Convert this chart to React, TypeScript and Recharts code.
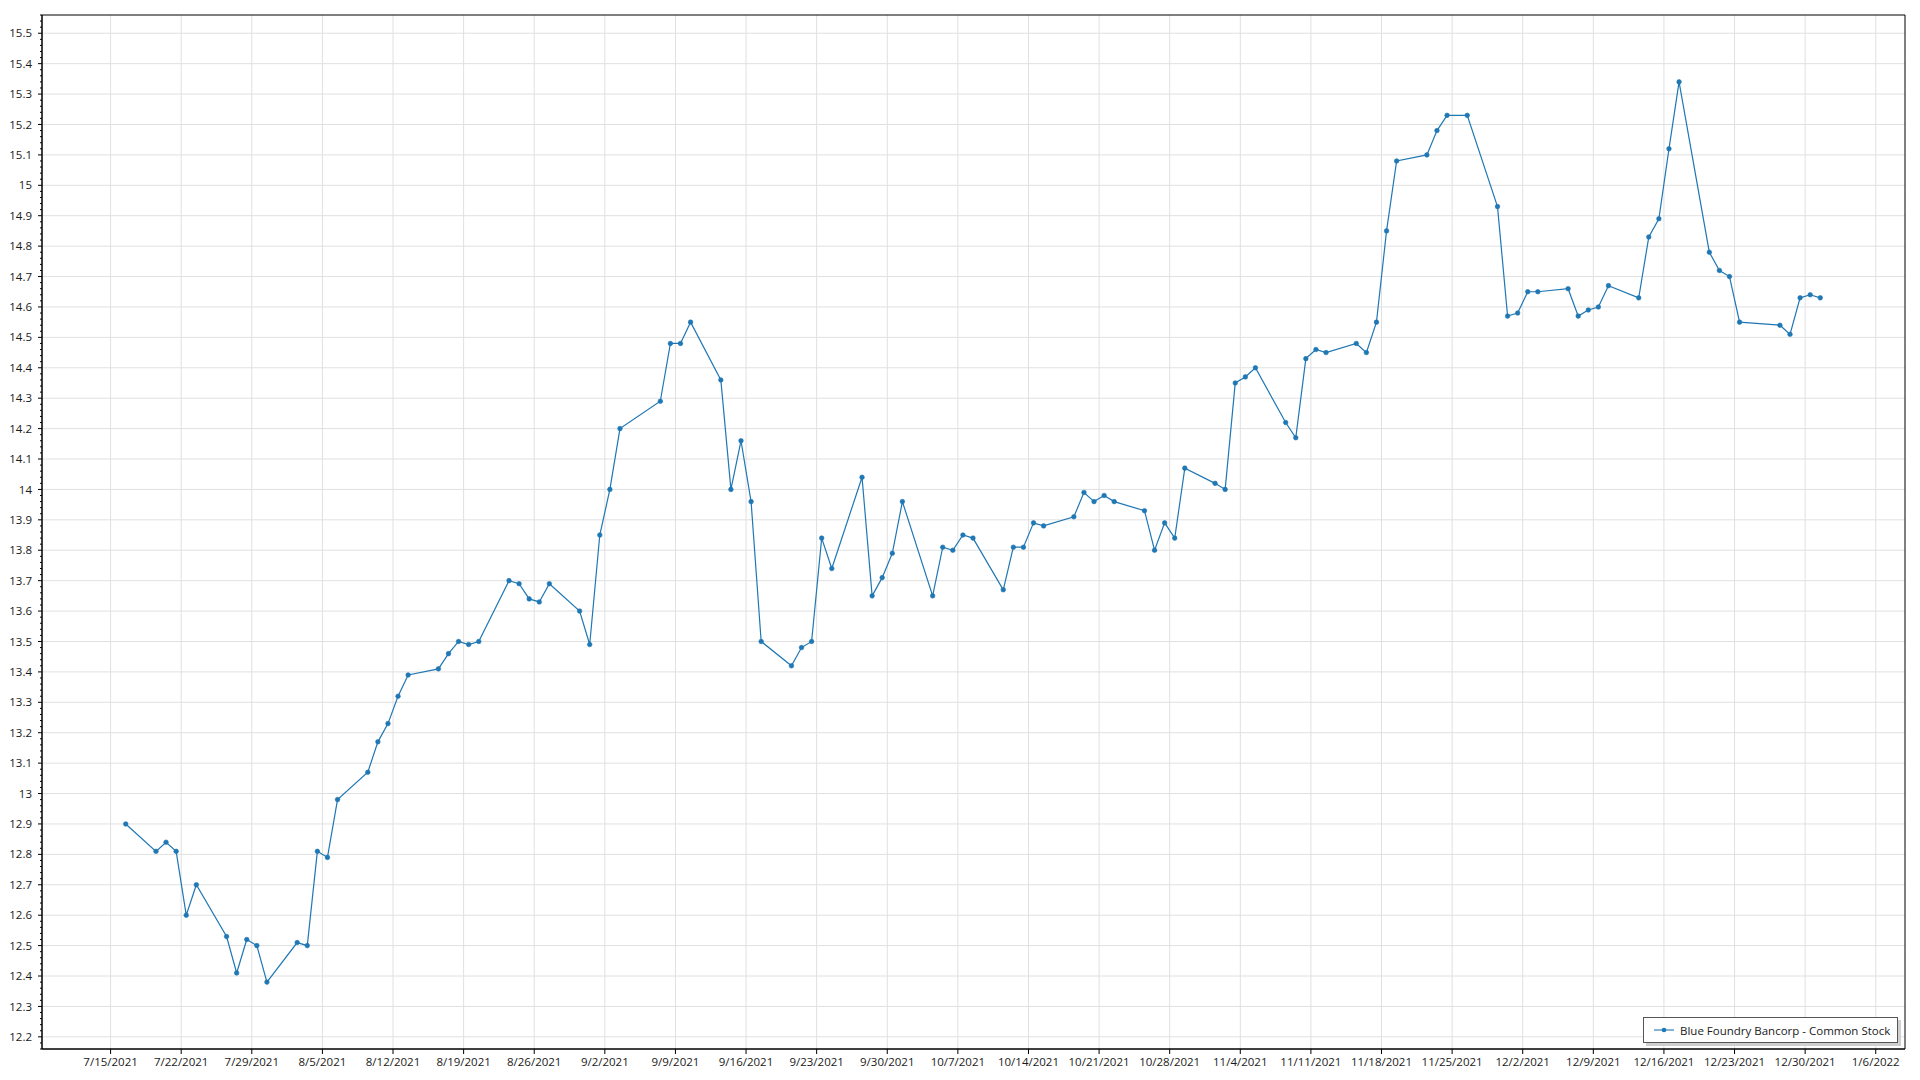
import React from 'react';
import { LineChart, Line, XAxis, YAxis, CartesianGrid, Legend, ReferenceArea } from 'recharts';

// ---------- data ----------
const seriesName = 'Blue Foundry Bancorp - Common Stock';

const tradeDates = [
  '7/16/2021', '7/19/2021', '7/20/2021', '7/21/2021', '7/22/2021', '7/23/2021',
  '7/26/2021', '7/27/2021', '7/28/2021', '7/29/2021', '7/30/2021',
  '8/2/2021', '8/3/2021', '8/4/2021', '8/5/2021', '8/6/2021',
  '8/9/2021', '8/10/2021', '8/11/2021', '8/12/2021', '8/13/2021',
  '8/16/2021', '8/17/2021', '8/18/2021', '8/19/2021', '8/20/2021',
  '8/23/2021', '8/24/2021', '8/25/2021', '8/26/2021', '8/27/2021',
  '8/30/2021', '8/31/2021', '9/1/2021', '9/2/2021', '9/3/2021',
  '9/7/2021', '9/8/2021', '9/9/2021', '9/10/2021',
  '9/13/2021', '9/14/2021', '9/15/2021', '9/16/2021', '9/17/2021',
  '9/20/2021', '9/21/2021', '9/22/2021', '9/23/2021', '9/24/2021',
  '9/27/2021', '9/28/2021', '9/29/2021', '9/30/2021', '10/1/2021',
  '10/4/2021', '10/5/2021', '10/6/2021', '10/7/2021', '10/8/2021',
  '10/11/2021', '10/12/2021', '10/13/2021', '10/14/2021', '10/15/2021',
  '10/18/2021', '10/19/2021', '10/20/2021', '10/21/2021', '10/22/2021',
  '10/25/2021', '10/26/2021', '10/27/2021', '10/28/2021', '10/29/2021',
  '11/1/2021', '11/2/2021', '11/3/2021', '11/4/2021', '11/5/2021',
  '11/8/2021', '11/9/2021', '11/10/2021', '11/11/2021', '11/12/2021',
  '11/15/2021', '11/16/2021', '11/17/2021', '11/18/2021', '11/19/2021',
  '11/22/2021', '11/23/2021', '11/24/2021', '11/26/2021',
  '11/29/2021', '11/30/2021', '12/1/2021', '12/2/2021', '12/3/2021',
  '12/6/2021', '12/7/2021', '12/8/2021', '12/9/2021', '12/10/2021',
  '12/13/2021', '12/14/2021', '12/15/2021', '12/16/2021', '12/17/2021',
  '12/20/2021', '12/21/2021', '12/22/2021', '12/23/2021',
  '12/27/2021', '12/28/2021', '12/29/2021', '12/30/2021', '12/31/2021',
];

const closePrices = [
  12.90, 12.81, 12.84, 12.81, 12.60, 12.70,
  12.53, 12.41, 12.52, 12.50, 12.38,
  12.51, 12.50, 12.81, 12.79, 12.98,
  13.07, 13.17, 13.23, 13.32, 13.39,
  13.41, 13.46, 13.50, 13.49, 13.50,
  13.70, 13.69, 13.64, 13.63, 13.69,
  13.60, 13.49, 13.85, 14.00, 14.20,
  14.29, 14.48, 14.48, 14.55,
  14.36, 14.00, 14.16, 13.96, 13.50,
  13.42, 13.48, 13.50, 13.84, 13.74,
  14.04, 13.65, 13.71, 13.79, 13.96,
  13.65, 13.81, 13.80, 13.85, 13.84,
  13.67, 13.81, 13.81, 13.89, 13.88,
  13.91, 13.99, 13.96, 13.98, 13.96,
  13.93, 13.80, 13.89, 13.84, 14.07,
  14.02, 14.00, 14.35, 14.37, 14.40,
  14.22, 14.17, 14.43, 14.46, 14.45,
  14.48, 14.45, 14.55, 14.85, 15.08,
  15.10, 15.18, 15.23, 15.23,
  14.93, 14.57, 14.58, 14.65, 14.65,
  14.66, 14.57, 14.59, 14.60, 14.67,
  14.63, 14.83, 14.89, 15.12, 15.34,
  14.78, 14.72, 14.70, 14.55,
  14.54, 14.51, 14.63, 14.64, 14.63,
];

const xTickLabels = [
  '7/15/2021', '7/22/2021', '7/29/2021', '8/5/2021', '8/12/2021', '8/19/2021',
  '8/26/2021', '9/2/2021', '9/9/2021', '9/16/2021', '9/23/2021', '9/30/2021',
  '10/7/2021', '10/14/2021', '10/21/2021', '10/28/2021', '11/4/2021', '11/11/2021',
  '11/18/2021', '11/25/2021', '12/2/2021', '12/9/2021', '12/16/2021', '12/23/2021',
  '12/30/2021', '1/6/2022',
];

const yMajorTicks = [
  12.2, 12.3, 12.4, 12.5, 12.6, 12.7, 12.8, 12.9, 13, 13.1, 13.2, 13.3,
  13.4, 13.5, 13.6, 13.7, 13.8, 13.9, 14, 14.1, 14.2, 14.3, 14.4, 14.5,
  14.6, 14.7, 14.8, 14.9, 15, 15.1, 15.2, 15.3, 15.4, 15.5,
];

// ---------- helpers ----------
const DAY = 86400000;
const parseDate = (s: string, hour = 0) => {
  const [m, d, y] = s.split('/').map(Number);
  return Date.UTC(y, m - 1, d, hour);
};
const fmtDate = (t: number) => {
  const dt = new Date(t);
  return `${dt.getUTCMonth() + 1}/${dt.getUTCDate()}/${dt.getUTCFullYear()}`;
};

const data = tradeDates.map((d, i) => ({ t: parseDate(d, 12), close: closePrices[i] }));
const xTicks = xTickLabels.map((s) => parseDate(s));

const X_MIN = xTicks[0] - 6.8 * DAY;
const X_MAX = xTicks[xTicks.length - 1] + 2.9 * DAY;
const Y_MIN = 12.16;
const Y_MAX = 15.56;

// minor ticks every 0.02
const yAllTicks: number[] = [];
for (let i = Math.round(Y_MIN * 50); i <= Math.round(Y_MAX * 50); i++) {
  yAllTicks.push(Math.round(i * 2) / 100);
}

const BLUE = '#1f77b4';
const TEXT = '#1a1a1a';
const FONT = 11.5;
const Y_TICK_SIZE = 4;
const Y_TICK_MARGIN = 6;

const YTick = (props: any) => {
  const { x, y, payload } = props;
  const v: number = payload.value;
  const major = Math.abs(v * 10 - Math.round(v * 10)) < 1e-6;
  const ax = x + Y_TICK_MARGIN + Y_TICK_SIZE;
  return (
    <g>
      <line x1={ax - (major ? Y_TICK_SIZE : 2)} x2={ax} y1={y} y2={y} stroke="#000" strokeWidth={1} />
      {major && (
        <text x={x} y={y} dy="0.355em" textAnchor="end" fill={TEXT} fontSize={FONT}>
          {String(Math.round(v * 10) / 10)}
        </text>
      )}
    </g>
  );
};

const LegendContent = () => (
  <div
    style={{
      width: 255,
      height: 26,
      boxSizing: 'border-box',
      border: '1px solid #555',
      boxShadow: '3px 3px 0 #cfcfcf',
      background: '#fff',
      display: 'flex',
      alignItems: 'center',
      paddingLeft: 10,
      whiteSpace: 'nowrap',
    }}
  >
    <svg width={20} height={10} style={{ display: 'block' }}>
      <line x1={0} y1={5} x2={20} y2={5} stroke={BLUE} strokeOpacity={0.55} strokeWidth={2} />
      <circle cx={10} cy={5} r={2.3} fill={BLUE} />
    </svg>
    <span style={{ marginLeft: 6, fontSize: FONT, color: TEXT }}>{seriesName}</span>
  </div>
);

export default function App() {
  return (
    <div
      style={{
        position: 'absolute',
        left: 0,
        top: 0,
        width: 1920,
        height: 1080,
        background: '#fff',
        fontFamily: '"Open Sans", "Noto Sans", sans-serif',
      }}
    >
      <LineChart width={1920} height={1080} data={data} margin={{ top: 15, right: 15, bottom: 0, left: 0 }}>
        <CartesianGrid
          stroke="#e0e0e0"
          strokeWidth={1}
          horizontalValues={yMajorTicks}
          verticalValues={xTicks}
        />
        <XAxis
          dataKey="t"
          type="number"
          domain={[X_MIN, X_MAX]}
          allowDataOverflow
          ticks={xTicks}
          interval={0}
          tickFormatter={fmtDate}
          tick={{ fill: TEXT, fontSize: FONT }}
          tickSize={5}
          tickMargin={4}
          stroke="#000"
          height={31}
        />
        <YAxis
          type="number"
          domain={[Y_MIN, Y_MAX]}
          allowDataOverflow
          ticks={yAllTicks}
          interval={0}
          tick={<YTick />}
          tickLine={false}
          tickSize={Y_TICK_SIZE}
          tickMargin={Y_TICK_MARGIN}
          stroke="#000"
          width={42}
        />
        <ReferenceArea x1={X_MIN} x2={X_MAX} y1={Y_MIN} y2={Y_MAX} fill="none" fillOpacity={0} stroke="#000" strokeWidth={1} ifOverflow="visible" />
        <Line
          type="linear"
          dataKey="close"
          name={seriesName}
          stroke={BLUE}
          strokeWidth={1.2}
          dot={{ r: 2.3, fill: BLUE, stroke: BLUE, strokeWidth: 0.6 }}
          activeDot={false}
          isAnimationActive={false}
        />
        <Legend
          layout="horizontal"
          align="center"
          verticalAlign="middle"
          wrapperStyle={{ left: 1643, top: 1017, width: 255, height: 26 }}
          content={LegendContent}
        />
      </LineChart>
    </div>
  );
}
